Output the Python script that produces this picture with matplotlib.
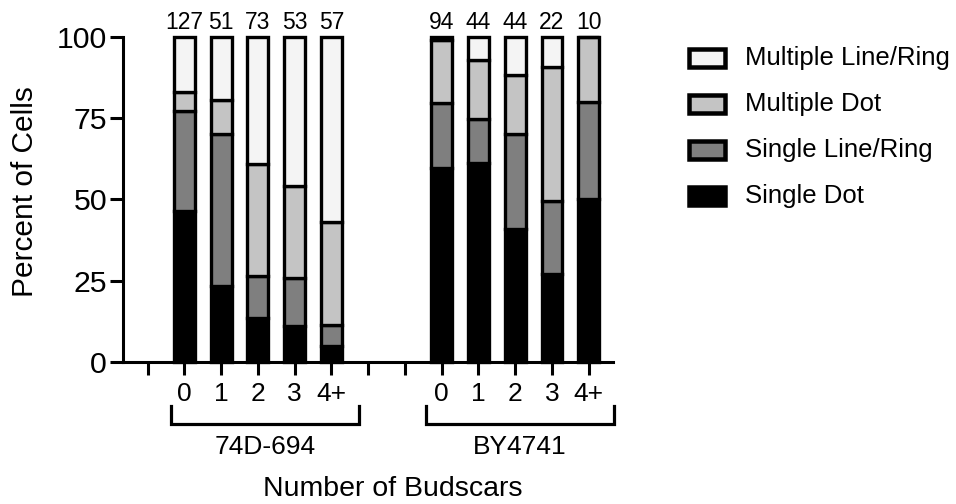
import matplotlib
matplotlib.use("Agg")
import matplotlib.pyplot as plt
import matplotlib.transforms as mtransforms
from matplotlib.patches import Rectangle
import numpy as np

plt.rcParams['font.family'] = ['Liberation Sans', 'DejaVu Sans']

# ---- data ----
strains = ["74D-694", "BY4741"]
budscar_labels = ["0", "1", "2", "3", "4+"]
counts_74D = [127, 51, 73, 53, 57]
counts_BY = [94, 44, 44, 22, 10]
series_names = ["Single Dot", "Single Line/Ring", "Multiple Dot", "Multiple Line/Ring"]
single_dot_74D = [46.4, 23.4, 13.4, 11.1, 5.0]
single_line_74D = [30.9, 46.7, 13.1, 14.6, 6.5]
multi_dot_74D = [5.6, 10.4, 34.5, 28.4, 31.6]
multi_line_74D = [17.1, 19.5, 39.0, 45.9, 56.9]
single_dot_BY = [59.5, 61.2, 40.8, 27.0, 50.0]
single_line_BY = [20.2, 13.5, 29.3, 22.5, 30.0]
multi_dot_BY = [19.2, 18.2, 18.2, 41.1, 20.0]
multi_line_BY = [1.1, 7.1, 11.7, 9.4, 0.0]
colors = ["#000000", "#7f7f7f", "#c4c4c4", "#f4f4f4"]
yticks = [0, 25, 50, 75, 100]

W, H = 956, 504
fig = plt.figure(figsize=(W / 100, H / 100), dpi=100)
ax = fig.add_axes([123 / W, (H - 362) / H, 490 / W, 325.3 / H])

pos_74D = np.arange(1, 6)
pos_BY = np.arange(8, 13)
series_74D = [single_dot_74D, single_line_74D, multi_dot_74D, multi_line_74D]
series_BY = [single_dot_BY, single_line_BY, multi_dot_BY, multi_line_BY]

bw = 0.57
elw = 2.4
for pos, sers in [(pos_74D, series_74D), (pos_BY, series_BY)]:
    bottom = np.zeros(5)
    for vals, c in zip(sers, colors):
        vals = np.array(vals)
        ax.bar(pos, vals, bottom=bottom, width=bw, color=c, edgecolor="black",
               linewidth=elw, clip_on=False, zorder=3)
        bottom = bottom + vals

ax.set_xlim(-0.67, 12.66)
ax.set_ylim(0, 100)
ax.set_yticks(yticks)
ax.set_yticklabels([str(v) for v in yticks], fontsize=21.8)
ax.set_xticks(np.arange(0, 13))
xl = [""] * 13
for p, l in zip(pos_74D, budscar_labels):
    xl[p] = l
for p, l in zip(pos_BY, budscar_labels):
    xl[p] = l
ax.set_xticklabels(xl, fontsize=19)
ax.tick_params(axis="both", length=9.5, width=2.2, color="black")
ax.tick_params(axis="y", pad=2)
ax.tick_params(axis="x", pad=5)
for s in ["top", "right"]:
    ax.spines[s].set_visible(False)
for s in ["left", "bottom"]:
    ax.spines[s].set_linewidth(2.2)

fig.text(25 / W, (H - 192) / H, "Percent of Cells", rotation=90, ha="center",
         va="center", fontsize=21.5)

trans = mtransforms.blended_transform_factory(ax.transData, ax.transAxes)
for pos, cnts in [(pos_74D, counts_74D), (pos_BY, counts_BY)]:
    for p, c in zip(pos, cnts):
        ax.text(p, 1.045, str(c), transform=trans, ha="center", va="center",
                fontsize=16.5)

# group brackets
for (x0, x1), name in zip([(0.63, 5.76), (7.57, 12.69)], strains):
    ax.plot([x0, x0, x1, x1], [-0.134, -0.191, -0.191, -0.134], transform=trans,
            color="black", linewidth=2.3, clip_on=False, solid_joinstyle="miter")
    ax.text((x0 + x1) / 2, -0.262, name, transform=trans, ha="center",
            va="center", fontsize=19)

fig.text(393 / W, (H - 489) / H, "Number of Budscars", ha="center",
         va="center", fontsize=20.5)

# legend (manual)
leg_order = [3, 2, 1, 0]
rows_y = [58, 104, 150, 196]
lw_px = 4.5
for yc, i in zip(rows_y, leg_order):
    x0 = 687 + lw_px / 2
    y0 = yc - 11.5 + lw_px / 2
    w = 40 - lw_px
    h = 23 - lw_px
    r = Rectangle((x0 / W, (H - y0 - h) / H), w / W, h / H,
                  transform=fig.transFigure, facecolor=colors[i],
                  edgecolor="black", linewidth=lw_px * 0.72)
    fig.add_artist(r)
    fig.text(745 / W, (H - yc) / H, series_names[i], ha="left", va="center",
             fontsize=18.5)

fig.savefig("out.png", dpi=100)
